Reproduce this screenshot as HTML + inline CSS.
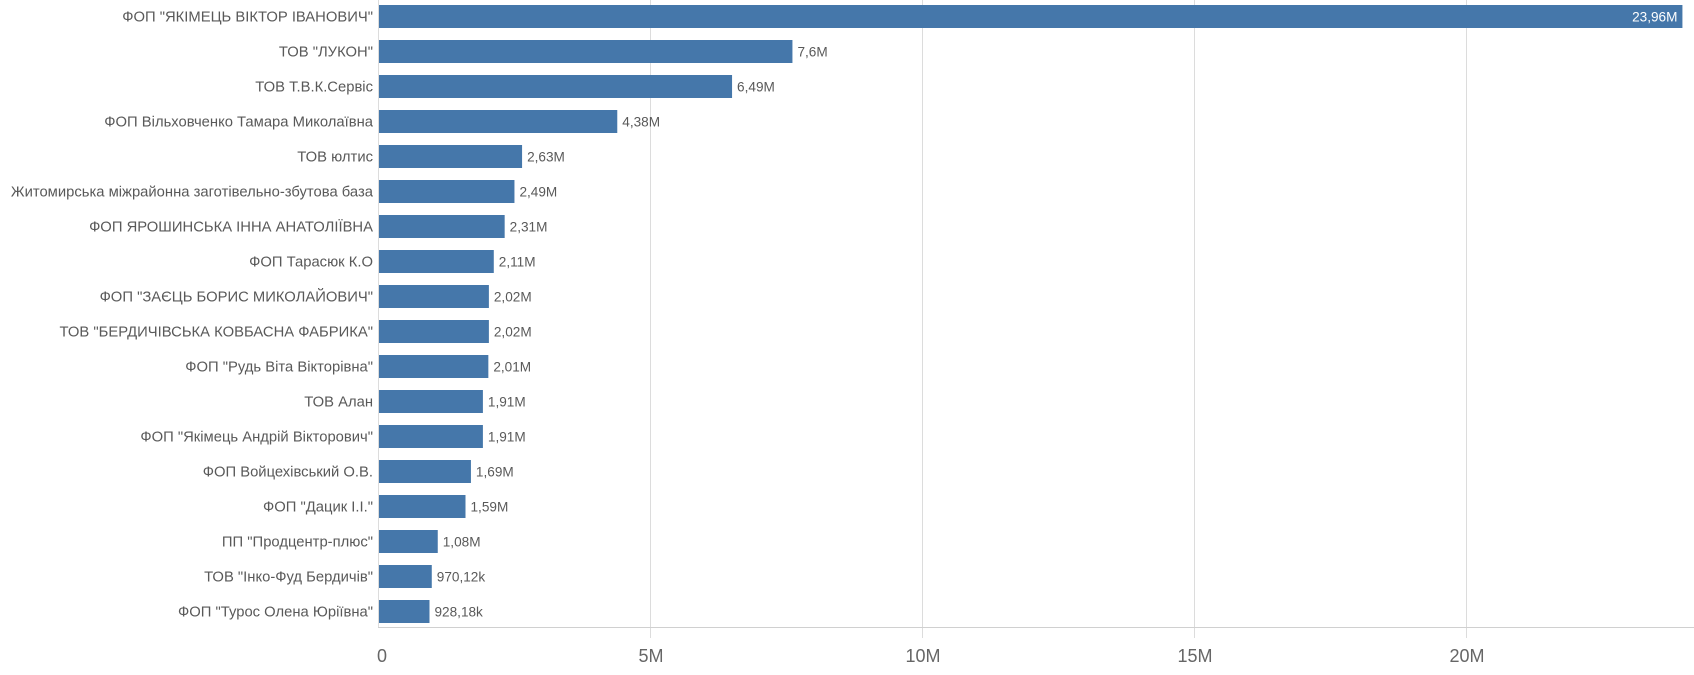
<!DOCTYPE html>
<html><head><meta charset="utf-8"><style>
body{margin:0;width:1694px;height:670px;background:#fff;overflow:hidden;font-family:"Liberation Sans",sans-serif;}
</style></head><body>
<svg width="1694" height="670" xmlns="http://www.w3.org/2000/svg" font-family="Liberation Sans, sans-serif">
<g stroke="#dcdcdc" stroke-width="1">
<line x1="378.5" y1="0" x2="378.5" y2="628"/>
<line x1="650.5" y1="0" x2="650.5" y2="638"/>
<line x1="922.5" y1="0" x2="922.5" y2="638"/>
<line x1="1194.5" y1="0" x2="1194.5" y2="638"/>
<line x1="1466.5" y1="0" x2="1466.5" y2="638"/>
<line x1="378" y1="627.5" x2="1694" y2="627.5" stroke="#d0d0d0"/>
</g>
<g fill="#666" font-size="18" text-anchor="middle">
<text x="382" y="662">0</text><text x="651" y="662">5M</text><text x="923" y="662">10M</text><text x="1195" y="662">15M</text><text x="1467" y="662">20M</text>
</g>
<g id="bars" fill="#4577aa"></g>
<g id="lbl" fill="#595959" font-size="14.8" text-anchor="end"></g>
<g id="val" fill="#595959" font-size="13.6"></g>
</svg>
<script>
var d=[["ФОП \"ЯКІМЕЦЬ ВІКТОР ІВАНОВИЧ\"",23.96,"23,96M"],["ТОВ \"ЛУКОН\"",7.6,"7,6M"],["ТОВ Т.В.К.Сервіс",6.49,"6,49M"],["ФОП Вільховченко Тамара Миколаївна",4.38,"4,38M"],["ТОВ юлтис",2.63,"2,63M"],["Житомирська міжрайонна заготівельно-збутова база",2.49,"2,49M"],["ФОП ЯРОШИНСЬКА ІННА АНАТОЛІЇВНА",2.31,"2,31M"],["ФОП Тарасюк К.О",2.11,"2,11M"],["ФОП \"ЗАЄЦЬ БОРИС МИКОЛАЙОВИЧ\"",2.02,"2,02M"],["ТОВ \"БЕРДИЧІВСЬКА КОВБАСНА ФАБРИКА\"",2.02,"2,02M"],["ФОП \"Рудь Віта Вікторівна\"",2.01,"2,01M"],["ТОВ Алан",1.91,"1,91M"],["ФОП \"Якімець Андрій Вікторович\"",1.91,"1,91M"],["ФОП Войцехівський О.В.",1.69,"1,69M"],["ФОП \"Дацик І.І.\"",1.59,"1,59M"],["ПП \"Продцентр-плюс\"",1.08,"1,08M"],["ТОВ \"Інко-Фуд Бердичів\"",0.97012,"970,12k"],["ФОП \"Турос Олена Юріївна\"",0.92818,"928,18k"]];
var ns="http://www.w3.org/2000/svg",b=document.getElementById("bars"),l=document.getElementById("lbl"),v=document.getElementById("val");
function el(t,a,p,txt){var e=document.createElementNS(ns,t);for(var k in a)e.setAttribute(k,a[k]);if(txt)e.textContent=txt;p.appendChild(e);}
d.forEach(function(r,i){var y=5+35*i,w=r[1]*54.4;
el("rect",{x:379,y:y,width:w,height:23},b);
el("text",{x:373,y:y+16.5},l,r[0]);
if(i==0)el("text",{x:379+w-5,y:y+16.5,fill:"#fff","text-anchor":"end"},v,r[2]);
else el("text",{x:379+w+5,y:y+16.5},v,r[2]);});
</script>
</body></html>
